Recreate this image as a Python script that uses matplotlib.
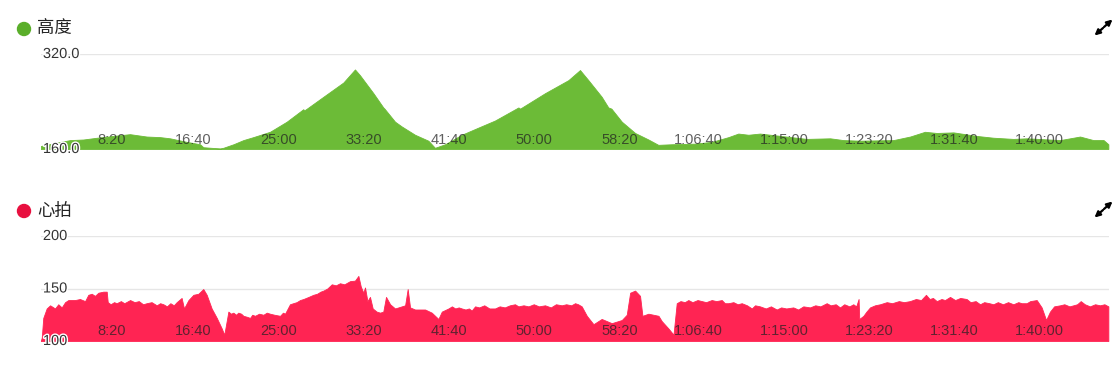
import matplotlib
matplotlib.use("Agg")
import matplotlib.pyplot as plt
from matplotlib.patches import Ellipse, FancyArrowPatch
import matplotlib.patheffects as pe

# ---------------- data ----------------
alt_title = "高度"
hr_title = "心拍"

alt_t = [0, 100, 172, 250, 330, 426, 523, 621, 700, 758, 856, 934, 953, 1000, 1051, 1070,
         1130, 1188, 1246, 1344, 1442, 1539, 1545, 1560, 1657, 1774, 1842, 1872, 1950, 2008,
         2015, 2077, 2116, 2194, 2272, 2311, 2370, 2468, 2565, 2663, 2800, 2810, 2956, 3093,
         3161, 3210, 3288, 3327, 3345, 3406, 3484, 3562, 3620, 3699, 3835, 3933, 4031, 4089,
         4148, 4216, 4490, 4627, 4705, 4802, 4998, 5096, 5183, 5252, 5350, 5487, 5584, 5701,
         5780, 5975, 6092, 6170, 6230, 6258]
alt_v = [165, 171, 175, 176, 179, 182, 185, 181, 180, 178, 172, 168, 163, 162, 161, 162,
         168, 175, 180, 189, 206, 227, 225, 228, 248, 272, 294, 284, 254, 230,
         228, 206, 198, 184, 174, 162, 168, 184, 196, 208, 230, 228, 254, 276,
         293, 276, 248, 230, 228, 206, 187, 176, 167, 168, 169, 172, 180, 186,
         184, 186, 177, 178, 175, 174, 175, 181, 189, 187, 188, 182, 179, 177,
         178, 175, 181, 175, 175, 168]

hr_t = [0, 6, 15, 35, 55, 84, 103, 123, 143, 162, 201, 230, 260, 279, 299, 318, 338, 367, 387,
        393, 410, 430, 445, 470, 490, 524, 550, 575, 600, 621, 650, 680, 700, 719, 740, 760, 780,
        797, 826, 840, 866, 895, 924, 953, 973, 1002, 1032, 1061, 1076,
        1100, 1115, 1129, 1145, 1158, 1175, 1188, 1210, 1227, 1240, 1256, 1280, 1305, 1325,
        1344, 1370, 1403, 1420, 1432,
        1461, 1480, 1500, 1520, 1540, 1570, 1598, 1620, 1640, 1657, 1680, 1706, 1730, 1754,
        1780, 1813, 1842, 1862, 1876, 1891, 1901, 1915, 1930, 1946, 1969,
        1989, 2008, 2024, 2048, 2077, 2136, 2151, 2165, 2194, 2253, 2292, 2331, 2351,
        2390, 2410, 2430, 2450, 2468, 2490, 2510, 2526, 2546, 2570, 2600, 2630, 2663, 2690,
        2720, 2750, 2780, 2800, 2830, 2859, 2890, 2920, 2956, 2990, 3020, 3054, 3080, 3110,
        3132, 3150, 3171, 3201, 3240, 3288, 3347,
        3406, 3435, 3455, 3484, 3513, 3527, 3562, 3621, 3640, 3679, 3709,
        3728, 3750, 3775, 3796, 3820, 3850, 3875, 3900, 3933, 3960, 3992, 4010, 4031, 4060,
        4085, 4109, 4140, 4168, 4187,
        4216, 4250, 4280, 4314, 4340, 4370, 4411, 4440, 4470, 4509, 4540, 4570, 4607, 4630,
        4660, 4685, 4710, 4740, 4763, 4780, 4794,
        4798, 4822, 4840, 4861, 4890, 4920, 4959, 4990, 5030, 5060, 5095, 5130, 5160, 5189,
        5210, 5230, 5252, 5280, 5300, 5330, 5360, 5390, 5427, 5450, 5480, 5506, 5530, 5560,
        5584, 5610, 5640, 5670, 5701, 5730, 5750, 5779, 5800, 5838,
        5867, 5893, 5916, 5940, 5975, 6000, 6030, 6053, 6075, 6096, 6120, 6150, 6180, 6209,
        6235, 6258]
hr_v = [100, 103, 122, 131, 134, 131, 135, 132, 137, 139, 139, 140, 138, 144, 145, 143, 146, 147, 147,
        137, 135, 137, 136, 138, 136, 139, 137, 138, 135, 136, 137, 134, 136, 135, 133, 136, 134,
        137, 141, 131, 139, 144, 145, 149.5, 144, 131, 122, 112, 106,
        128, 126, 127, 125, 127, 126, 124, 123, 122, 125, 124, 126, 125, 127,
        126, 125, 124, 127, 126,
        135, 136, 137, 139, 140, 142, 144, 145, 147, 148, 150, 154, 153, 155,
        154, 157, 157.5, 162, 152, 146, 151, 138, 142, 131, 128,
        127, 128, 142, 135, 131, 134, 149.5, 132, 130, 130, 127, 121, 128,
        131, 133, 131, 132, 131, 130, 131, 129, 133, 132, 134, 131, 131, 133,
        132, 134, 135, 133, 134, 133, 135, 133, 134, 132, 135, 134, 135, 134,
        136, 135, 133, 124, 116, 121, 117,
        120, 125, 146, 148, 143, 124, 126, 124, 119, 112, 106,
        136, 138, 137, 139, 137, 139, 138, 137, 139, 138, 139, 136, 136, 137,
        135, 136, 134, 131, 134,
        133, 131, 133, 130, 132, 131, 132, 130, 133, 132, 134, 133, 136, 134,
        135, 132, 135, 133, 135, 133, 140,
        121, 124, 128, 132, 134, 135, 137, 136, 138, 137, 138, 140, 139, 144,
        140, 141, 138, 140, 139, 142, 139, 141, 140, 137, 138, 135, 137, 136,
        135, 137, 135, 137, 135, 137, 136, 136, 138, 139,
        132, 120, 128, 133, 134, 135, 133, 134, 135, 138, 135, 133, 135, 134,
        135, 133]

x_ticks = [500, 1000, 1500, 2000, 2500, 3000, 3500, 4000, 4500, 5000, 5500, 6000]
x_labels = ["8:20", "16:40", "25:00", "33:20", "41:40", "50:00", "58:20",
            "1:06:40", "1:15:00", "1:23:20", "1:31:40", "1:40:00"]
alt_yticks = [160, 320]
alt_ylabels = ["160.0", "320.0"]
hr_yticks = [100, 150, 200]
hr_ylabels = ["100", "150", "200"]
t_max = 6260

# ---------------- styling ----------------
W, H = 1113, 368
GREEN = "#6cbb37"
GREEN_DOT = "#5aae2a"
RED = "#ff2453"
RED_DOT = "#e8103f"
GRID = "#e6e6e6"
NUM_FONT = ["Liberation Sans", "DejaVu Sans"]
CJK_FONT = ["Noto Sans CJK SC", "DejaVu Sans"]

fig = plt.figure(figsize=(W / 100, H / 100), dpi=100)
fig.patch.set_facecolor("white")


def rect(x0, x1, ytop, ybot):
    return [x0 / W, 1 - ybot / H, (x1 - x0) / W, (ybot - ytop) / H]


def panel(ytop, ybot, title, title_y, t, v, color, dot_color, yticks, ylabels, xlab_off):
    ax = fig.add_axes(rect(40.7, 1108.7, ytop, ybot))
    ax.set_xlim(0, t_max)
    ax.set_ylim(yticks[0], yticks[-1])
    for s in ax.spines.values():
        s.set_visible(False)
    ax.set_xticks([])
    ax.set_yticks([])
    ax.patch.set_alpha(0)
    for yv in yticks:
        ax.axhline(yv, color=GRID, lw=1.0, zorder=0)
    ax.fill_between(t, yticks[0], v, color=color, lw=0.6, edgecolor=color, zorder=2)
    for tv, lab in zip(x_ticks, x_labels):
        ax.annotate(lab, xy=(tv, yticks[0]), xycoords="data",
                    xytext=(0, xlab_off), textcoords="offset points",
                    ha="right", va="center", fontsize=10.5, family=NUM_FONT,
                    color="#222222", alpha=0.72, zorder=5, annotation_clip=False)
    for yv, lab in zip(yticks, ylabels):
        ax.annotate(lab, xy=(0, yv), xycoords=("axes fraction", "data"),
                    xytext=(1.6, 0), textcoords="offset points",
                    ha="left", va="center", fontsize=10.5, family=NUM_FONT,
                    color="#333333", zorder=6, annotation_clip=False,
                    path_effects=[pe.withStroke(linewidth=2, foreground="white")])
    # title with dot
    fig.add_artist(Ellipse((24 / W, 1 - title_y / H), 13 / W, 13 / H,
                           transform=fig.transFigure, color=dot_color))
    fig.text(37 / W, 1 - (title_y - 0.5) / H, title, ha="left", va="center",
             fontsize=12.5, family=CJK_FONT, color="#222222")
    # expand icon
    cx, cy = 1103.5, title_y - 1.5
    for (x0, y0, x1, y1) in [(cx + 0.5, cy - 0.5, cx + 9, cy - 8),
                             (cx - 0.5, cy + 0.5, cx - 9, cy + 8)]:
        fig.add_artist(FancyArrowPatch((x0 / W, 1 - y0 / H), (x1 / W, 1 - y1 / H),
                                       transform=fig.transFigure, arrowstyle="-|>",
                                       mutation_scale=8, lw=1.6, color="black",
                                       shrinkA=0, shrinkB=0))
    return ax


panel(54, 149, alt_title, 29, alt_t, alt_v, GREEN, GREEN_DOT, alt_yticks, alt_ylabels, 6.8)
panel(236, 341, hr_title, 211, hr_t, hr_v, RED, RED_DOT, hr_yticks, hr_ylabels, 7.0)

fig.savefig("out.png", dpi=100, facecolor="white")
